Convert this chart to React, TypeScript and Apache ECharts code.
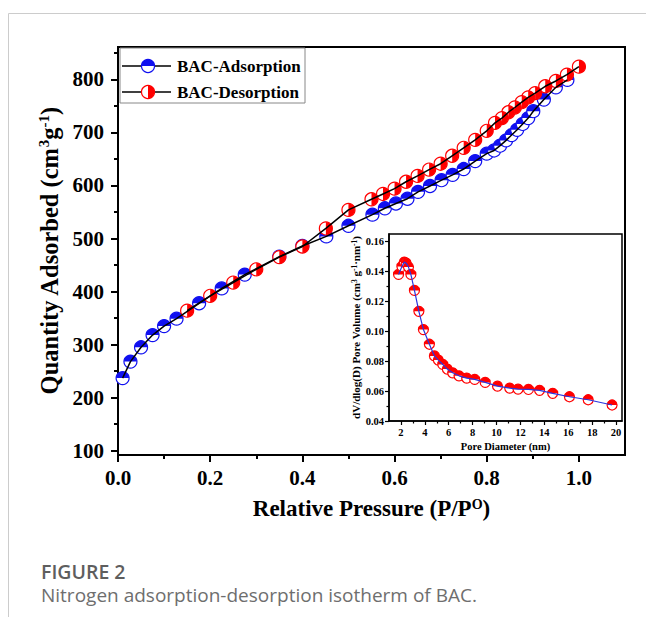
import React, { useEffect, useRef } from "react";
import * as echarts from "echarts";

// Main isotherm (relative pressure vs quantity adsorbed)
const adsX = [0.01, 0.027, 0.05, 0.075, 0.1, 0.127, 0.176, 0.225, 0.275, 0.35, 0.4, 0.452, 0.5, 0.552, 0.579, 0.603, 0.628, 0.651, 0.677, 0.702, 0.726, 0.75, 0.775, 0.8, 0.816, 0.829, 0.842, 0.854, 0.866, 0.878, 0.89, 0.901, 0.924, 0.95, 0.975];
const adsY = [237, 268, 295, 318, 335, 349, 378, 406, 432, 466, 486, 504, 524, 545, 557, 566, 575, 588, 599, 610, 620, 631, 646, 660, 666, 675, 685, 695, 705, 716, 727, 740, 762, 785, 799];
const desX = [1.0, 0.974, 0.95, 0.927, 0.905, 0.89, 0.876, 0.861, 0.847, 0.833, 0.818, 0.8, 0.775, 0.75, 0.725, 0.7, 0.675, 0.65, 0.625, 0.6, 0.575, 0.55, 0.5, 0.451, 0.4, 0.35, 0.3, 0.25, 0.2, 0.15];
const desY = [824, 809, 797, 787, 774, 766, 757, 747, 738, 727, 718, 703, 686, 671, 656, 641, 630, 618, 607, 594, 584, 574, 554, 519, 485, 465, 442, 417, 392, 364];

// Inset: pore size distribution
const poreD = [1.8, 2.08, 2.28, 2.44, 2.63, 2.83, 3.13, 3.5, 3.88, 4.38, 4.8, 5.13, 5.5, 5.88, 6.33, 6.86, 7.5, 8.17, 9.05, 10.08, 11.1, 11.8, 12.67, 13.6, 14.7, 16.1, 17.67, 19.67];
const poreV = [0.138, 0.1433, 0.1462, 0.1455, 0.1429, 0.138, 0.1273, 0.1133, 0.1011, 0.0913, 0.0835, 0.0807, 0.0778, 0.0747, 0.0722, 0.0702, 0.0687, 0.0678, 0.0658, 0.0633, 0.062, 0.0613, 0.0611, 0.0605, 0.0585, 0.0562, 0.0542, 0.0507];

// Tick values
const mainXTicks = [0, 0.2, 0.4, 0.6, 0.8, 1.0];
const mainXMinor = [0.1, 0.3, 0.5, 0.7, 0.9];
const mainYTicks = [100, 200, 300, 400, 500, 600, 700, 800];
const mainYMinor = [150, 250, 350, 450, 550, 650, 750, 850];
const insetXTicks = [2, 4, 6, 8, 10, 12, 14, 16, 18, 20];
const insetXMinor = [3, 5, 7, 9, 11, 13, 15, 17, 19];
const insetYTicks = [0.04, 0.06, 0.08, 0.1, 0.12, 0.14, 0.16];
const insetYMinor = [0.05, 0.07, 0.09, 0.11, 0.13, 0.15];

const legendNames = ["BAC-Adsorption", "BAC-Desorption"];
const captionTitle = "FIGURE 2";
const captionText = "Nitrogen adsorption-desorption isotherm of BAC.";

const SERIF = '"Liberation Serif", "Times New Roman", serif';
const SANS = '"Open Sans", "Noto Sans", sans-serif';
const BLUE = "#1010f0";
const RED = "#ff0000";

function markerRender(color: string, start: number, end: number, r: number) {
  return (_params: any, api: any) => {
    const p = api.coord([api.value(0), api.value(1)]);
    return {
      type: "group",
      children: [
        { type: "circle", shape: { cx: p[0], cy: p[1], r }, style: { fill: "#fff", stroke: color, lineWidth: 1.2 } },
        { type: "sector", shape: { cx: p[0], cy: p[1], r0: 0, r, startAngle: start, endAngle: end }, style: { fill: color } },
      ],
    };
  };
}

function legendMarker(cx: number, cy: number, color: string, start: number, end: number): any[] {
  return [
    { type: "circle", z: 60, shape: { cx, cy, r: 6.5 }, style: { fill: "#fff", stroke: color, lineWidth: 1.2 } },
    { type: "sector", z: 61, shape: { cx, cy, r0: 0, r: 6.5, startAngle: start, endAngle: end }, style: { fill: color } },
  ];
}

export default function App() {
  const ref = useRef<HTMLDivElement>(null);
  useEffect(() => {
    if (!ref.current) return;
    const chart = echarts.init(ref.current, null, { renderer: "svg" });
    const axisBase = {
      type: "value",
      splitLine: { show: false },
      axisLine: { show: true, onZero: false, lineStyle: { color: "#000", width: 2 } },
    };
    const mainLabel = { fontFamily: SERIF, fontWeight: "bold", fontSize: 21, color: "#000" };
    const insetLabel = { fontFamily: SERIF, fontWeight: "bold", fontSize: 10.5, color: "#000" };
    const option: any = {
      animation: false,
      grid: [
        { left: 118, top: 47, right: 21, bottom: 162, show: true, borderColor: "#000", borderWidth: 2, backgroundColor: "transparent" },
        { left: 389, top: 234, right: 24, bottom: 196, show: true, borderColor: "#000", borderWidth: 1.5, backgroundColor: "#fff" },
      ],
      xAxis: [
        {
          ...axisBase, gridIndex: 0, min: 0, max: 1.1, position: "bottom",
          axisTick: { show: true, inside: false, length: 7, lineStyle: { width: 2, color: "#000" }, customValues: mainXTicks },
          axisLabel: { ...mainLabel, margin: 12, customValues: mainXTicks, formatter: (v: number) => v.toFixed(1) },
          name: "{a|Relative Pressure (P/P}{s|O}{a|)}",
          nameLocation: "middle", nameGap: 42,
          nameTextStyle: { rich: { a: { fontFamily: SERIF, fontWeight: "bold", fontSize: 23, color: "#000" }, s: { fontFamily: SERIF, fontWeight: "bold", fontSize: 14, color: "#000", verticalAlign: "top" } } },
        },
        {
          ...axisBase, gridIndex: 0, min: 0, max: 1.1, position: "bottom", axisLine: { show: false },
          axisTick: { show: true, inside: false, length: 4, lineStyle: { width: 2, color: "#000" }, customValues: mainXMinor },
          axisLabel: { show: false },
        },
        {
          ...axisBase, gridIndex: 1, min: 1, max: 20.5, position: "bottom", axisLine: { show: true, onZero: false, lineStyle: { color: "#000", width: 1.5 } },
          axisTick: { show: true, inside: false, length: 4, lineStyle: { width: 1.2, color: "#000" }, customValues: insetXTicks },
          axisLabel: { ...insetLabel, margin: 6, customValues: insetXTicks },
          name: "Pore Diameter (nm)", nameLocation: "middle", nameGap: 20,
          nameTextStyle: { fontFamily: SERIF, fontWeight: "bold", fontSize: 10.5, color: "#000" },
        },
        {
          ...axisBase, gridIndex: 1, min: 1, max: 20.5, position: "bottom", axisLine: { show: false },
          axisTick: { show: true, inside: false, length: 2.5, lineStyle: { width: 1.2, color: "#000" }, customValues: insetXMinor },
          axisLabel: { show: false },
        },
      ],
      yAxis: [
        {
          ...axisBase, gridIndex: 0, min: 92, max: 861, position: "left",
          axisTick: { show: true, inside: false, length: 7, lineStyle: { width: 2, color: "#000" }, customValues: mainYTicks },
          axisLabel: { ...mainLabel, margin: 14, customValues: mainYTicks },
          name: "{a|Quantity Adsorbed (cm}{s|3}{a|g}{s|-1}{a|)}",
          nameLocation: "middle", nameRotate: 90, nameGap: 53,
          nameTextStyle: { rich: { a: { fontFamily: SERIF, fontWeight: "bold", fontSize: 24.5, color: "#000" }, s: { fontFamily: SERIF, fontWeight: "bold", fontSize: 15, color: "#000", verticalAlign: "top" } } },
        },
        {
          ...axisBase, gridIndex: 0, min: 92, max: 861, position: "left", axisLine: { show: false },
          axisTick: { show: true, inside: false, length: 4, lineStyle: { width: 2, color: "#000" }, customValues: mainYMinor },
          axisLabel: { show: false },
        },
        {
          ...axisBase, gridIndex: 1, min: 0.04, max: 0.165, position: "left", axisLine: { show: true, onZero: false, lineStyle: { color: "#000", width: 1.5 } },
          axisTick: { show: true, inside: false, length: 4, lineStyle: { width: 1.2, color: "#000" }, customValues: insetYTicks },
          axisLabel: { ...insetLabel, margin: 5, customValues: insetYTicks, formatter: (v: number) => v.toFixed(2) },
          name: "{a|dV/dlog(D) Pore Volume (cm}{s|3}{a| g}{s|-1}{a|·nm}{s|-1}{a|)}",
          nameLocation: "middle", nameRotate: 90, nameGap: 28,
          nameTextStyle: { rich: { a: { fontFamily: SERIF, fontWeight: "bold", fontSize: 11, color: "#000" }, s: { fontFamily: SERIF, fontWeight: "bold", fontSize: 7.5, color: "#000", verticalAlign: "top" } } },
        },
        {
          ...axisBase, gridIndex: 1, min: 0.04, max: 0.165, position: "left", axisLine: { show: false },
          axisTick: { show: true, inside: false, length: 2.5, lineStyle: { width: 1.2, color: "#000" }, customValues: insetYMinor },
          axisLabel: { show: false },
        },
      ],
      series: [
        { type: "line", xAxisIndex: 0, yAxisIndex: 0, data: adsX.map((x, i) => [x, adsY[i]]), symbol: "none", lineStyle: { color: "#000", width: 1.5 } },
        { type: "custom", xAxisIndex: 0, yAxisIndex: 0, data: adsX.map((x, i) => [x, adsY[i]]), renderItem: markerRender(BLUE, Math.PI, 2 * Math.PI, 6.5), encode: { x: 0, y: 1 } },
        { type: "line", xAxisIndex: 0, yAxisIndex: 0, data: desX.map((x, i) => [x, desY[i]]), symbol: "none", lineStyle: { color: "#000", width: 1.5 } },
        { type: "custom", xAxisIndex: 0, yAxisIndex: 0, data: desX.map((x, i) => [x, desY[i]]), renderItem: markerRender(RED, -Math.PI / 2, Math.PI / 2, 6.5), encode: { x: 0, y: 1 } },
        { type: "line", xAxisIndex: 2, yAxisIndex: 2, data: poreD.map((x, i) => [x, poreV[i]]), symbol: "none", lineStyle: { color: "#2a35e0", width: 1.2 } },
        { type: "custom", xAxisIndex: 2, yAxisIndex: 2, data: poreD.map((x, i) => [x, poreV[i]]), renderItem: markerRender(RED, Math.PI, 2 * Math.PI, 5), encode: { x: 0, y: 1 } },
      ],
      graphic: [
        { type: "line", shape: { x1: 8.5, y1: 13.5, x2: 646, y2: 13.5 }, style: { stroke: "#cccccc", lineWidth: 1 } },
        { type: "line", shape: { x1: 8.5, y1: 13.5, x2: 8.5, y2: 617 }, style: { stroke: "#cccccc", lineWidth: 1 } },
        { type: "rect", z: 50, shape: { x: 120, y: 48, width: 185, height: 55 }, style: { fill: "#fff", stroke: "#888", lineWidth: 1 } },
        { type: "line", z: 55, shape: { x1: 122, y1: 66, x2: 171, y2: 66 }, style: { stroke: "#000", lineWidth: 1.5 } },
        { type: "line", z: 55, shape: { x1: 122, y1: 92, x2: 171, y2: 92 }, style: { stroke: "#000", lineWidth: 1.5 } },
        ...legendMarker(148, 66, BLUE, Math.PI, 2 * Math.PI),
        ...legendMarker(148, 92, RED, -Math.PI / 2, Math.PI / 2),
        { type: "text", z: 60, x: 177, y: 66, style: { text: legendNames[0], fontFamily: SERIF, fontWeight: "bold", fontSize: 17, fill: "#000", verticalAlign: "middle" } },
        { type: "text", z: 60, x: 177, y: 92, style: { text: legendNames[1], fontFamily: SERIF, fontWeight: "bold", fontSize: 17, fill: "#000", verticalAlign: "middle" } },
        { type: "text", x: 41, y: 571, style: { text: captionTitle, fontFamily: SANS, fontWeight: 600, fontSize: 19.5, fill: "#5e5e5e", verticalAlign: "middle" } },
        { type: "text", x: 41, y: 595, style: { text: captionText, fontFamily: SANS, fontSize: 19, fill: "#6e6e6e", verticalAlign: "middle" } },
      ],
    };
    chart.setOption(option);
    return () => chart.dispose();
  }, []);
  return <div ref={ref} style={{ position: "absolute", left: 0, top: 0, width: 646, height: 617 }} />;
}
